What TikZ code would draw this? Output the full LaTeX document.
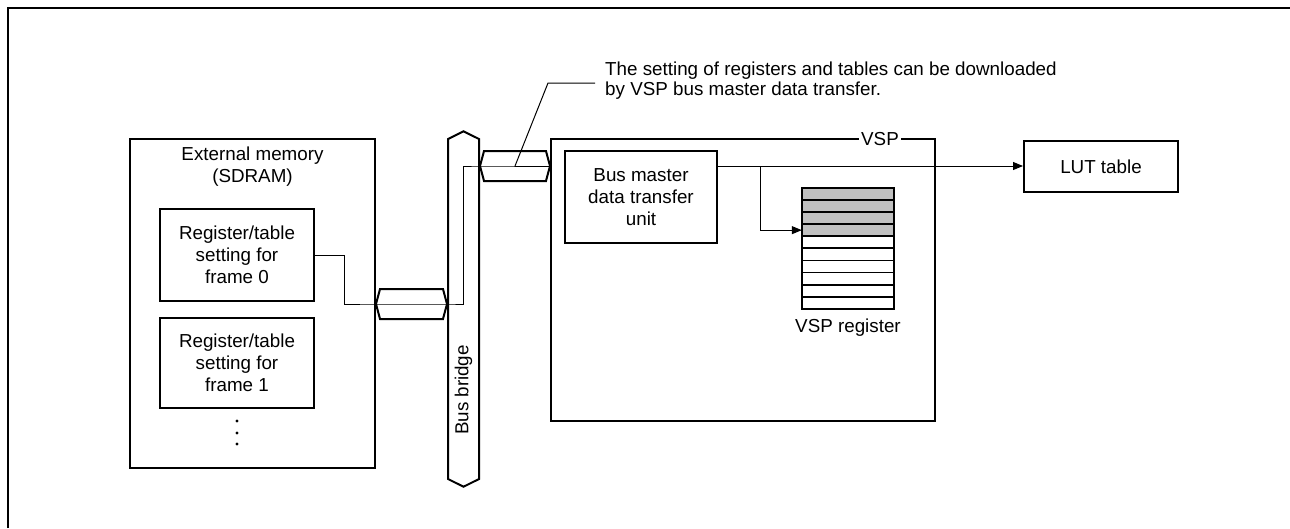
\documentclass[tikz,border=0pt]{standalone}
\usepackage{fontspec}
\setmainfont{Liberation Sans}
\usetikzlibrary{shapes.symbols,arrows.meta}

\tikzset{
  blockbox/.style={draw, line width=2pt, inner sep=0pt, align=center},
  busport/.style={draw, line width=2pt, shape=signal, signal to=east and west,
    signal pointer angle=150, minimum width=71pt, minimum height=30pt, inner sep=0pt},
  wire/.style={line width=1pt},
  wirearrow/.style={wire, -{Triangle[length=10pt,width=8pt]}},
  regrow/.style={draw, line width=1.8pt}
}
\definecolor{regshade}{HTML}{C0C0C0}

\begin{document}
\begin{tikzpicture}[x=1pt,y=-1pt,font=\fontsize{18.8}{22}\selectfont]
  \useasboundingbox (0,0) rectangle (1290,528);
  % Frame
  \draw[line width=2.2pt] (8,528) -- (8,8) -- (1290,8);

  % External memory
  \node[blockbox, minimum width=245pt, minimum height=329pt] (extmem) at (252.5,303.5) {};
  \node[align=center] (extmemtitle) at (252.5,167) {External memory\\(SDRAM)};
  \node[blockbox, minimum width=154pt, minimum height=92pt] (frame0) at (237,255) {Register/table\\setting for\\frame 0};
  \node[blockbox, minimum width=154pt, minimum height=90pt] (frame1) at (237,362.5) {Register/table\\setting for\\frame 1};
  \foreach \y in {421,433,444} \fill (237,\y) circle (1.7pt);

  % Bus bridge
  \node[busport, signal to=north and south, signal pointer angle=127,
    minimum width=31pt, minimum height=340pt] (bbridge) at (463.5,309) {};
  \node[rotate=90] (bblabel) at (463.5,390) {Bus bridge};

  % Bus ports
  \node[busport] (loport) at (411.5,304) {};
  \node[busport, minimum width=70pt] (upport) at (515,166) {};

  % VSP
  \node[blockbox, minimum width=384pt, minimum height=282pt] (vsp) at (743,280) {};
  \node[fill=white, inner xsep=2pt, inner ysep=0pt] (vsplabel) at (880,139) {VSP};
  \node[blockbox, minimum width=152pt, minimum height=92pt] (bmu) at (641,197) {Bus master\\data transfer\\unit};

  % VSP register (10 rows, upper 4 grey)
  \node[minimum width=92pt, minimum height=121pt, inner sep=0pt] (vspreg) at (848,248.5) {};
  \fill[regshade] (vspreg.north west) rectangle ++(92,48.4);
  \foreach \i in {0,...,9}
    \draw[regrow] ([yshift=-\i*12.1pt]vspreg.north west) rectangle ++(92,12.1);
  \node (vspregtitle) at (848,328) {VSP register};

  % LUT table
  \node[blockbox, minimum width=154pt, minimum height=51pt] (lut) at (1101,166.5) {LUT table};

  % Bus path
  \draw[wire] (frame0.east) -- ++(29,0) |- (loport.west) -- (loport.east)
    -- (bbridge.center |- loport.east) |- (upport.west) -- (upport.east);

  % Transfer unit outputs
  \coordinate (bmuout) at ([yshift=-16pt]bmu.north east);
  \draw[wirearrow] (bmuout) -- (bmuout -| lut.west);
  \draw[wirearrow] ([xshift=42pt]bmuout) |- ([yshift=-42.35pt]vspreg.north west);

  % Note
  \node[align=left, anchor=west, inner xsep=10pt, font=\fontsize{18.8}{20}\selectfont] (note) at (595,81)
    {The setting of registers and tables can be downloaded\\by VSP bus master data transfer.};
  \draw[wire] (upport.center) -- (548,83) -- (note.west |- 548,83);
\end{tikzpicture}
\end{document}
